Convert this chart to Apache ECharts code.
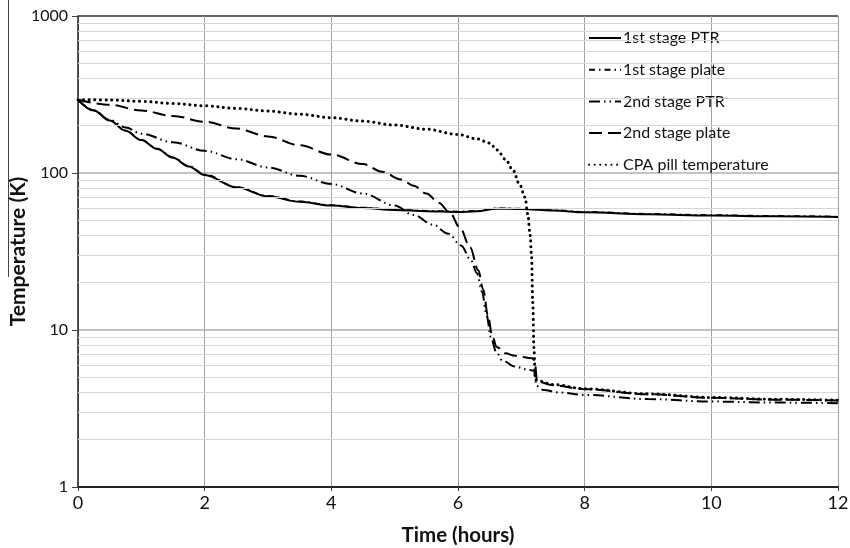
<!DOCTYPE html>
<html>
<head>
<meta charset="utf-8">
<script src="https://cdn.jsdelivr.net/npm/echarts@6/dist/echarts.min.js"></script>
<style>
  html, body { margin: 0; padding: 0; background: #fff; }
  #chart { width: 850px; height: 548px; }
</style>
</head>
<body>
<div id="chart"></div>
<script>
// series names
const seriesNames = ['1st stage PTR', '1st stage plate', '2nd stage PTR', '2nd stage plate', 'CPA pill temperature'];

// 1st stage PTR (solid)
const ptr1Time = [0, 0.25, 0.5, 0.75, 1, 1.25, 1.5, 1.75, 2, 2.5, 3, 3.5, 4, 4.5, 5, 5.5, 6, 6.3, 6.6, 7, 7.5, 8, 9, 10, 11, 12];
const ptr1Temp = [293, 250, 216, 186, 162, 142, 125, 110, 97, 81, 71, 65.5, 62, 59.8, 58.2, 57.1, 56.5, 57, 59.3, 59, 57.6, 56.2, 54.6, 53.6, 53, 52.5];

// 1st stage plate (dash dot), runs on top of the PTR curve
const plate1Time = [0, 0.25, 0.5, 0.75, 1, 1.25, 1.5, 1.75, 2, 2.5, 3, 3.5, 4, 4.5, 5, 5.5, 6, 6.3, 6.6, 7, 7.5, 8, 9, 10, 11, 12];
const plate1Temp = [293, 251, 217, 187, 163, 143, 126, 111, 98, 81.5, 71.5, 66, 62.4, 60.2, 58.6, 57.5, 56.9, 57.4, 59.7, 59.4, 58, 56.6, 55, 54, 53.3, 52.8];

// 2nd stage PTR (long dash dot dot)
const ptr2Time = [0, 0.25, 0.5, 0.75, 1, 1.5, 2, 2.5, 3, 3.5, 4, 4.5, 5, 5.3, 5.6, 5.85, 6.05, 6.2, 6.3, 6.38, 6.45, 6.52, 6.6, 6.7, 6.9, 7.1, 7.2, 7.24, 7.35, 7.6, 8, 9, 10, 11, 12];
const ptr2Temp = [293, 250, 218, 195, 178, 157, 138.5, 122.5, 108.5, 96, 85, 74, 62, 54, 47, 41, 34.5, 28, 23, 17.5, 12.5, 9, 7.3, 6.4, 5.85, 5.6, 5.5, 4.4, 4.15, 4.0, 3.86, 3.63, 3.5, 3.45, 3.42];

// 2nd stage plate (long dash)
const plate2Time = [0, 0.5, 1, 1.5, 2, 2.5, 3, 3.5, 4, 4.5, 4.8, 5.1, 5.3, 5.5, 5.7, 5.87, 6.03, 6.19, 6.32, 6.4, 6.47, 6.54, 6.61, 6.75, 6.9, 7.17, 7.21, 7.25, 7.5, 8, 9, 10, 11, 12];
const plate2Temp = [293, 272, 250, 231, 212, 192, 171, 150, 131, 114, 102, 91, 83, 74, 64.5, 56, 45, 33.7, 24, 18, 12.5, 9.2, 7.8, 7.1, 6.85, 6.6, 6.4, 4.7, 4.45, 4.2, 3.9, 3.7, 3.6, 3.56];

// CPA pill temperature (dotted)
const cpaTime = [0, 0.5, 1, 1.5, 2, 2.5, 3, 3.5, 4, 4.5, 5, 5.5, 6, 6.3, 6.5, 6.62, 6.75, 6.87, 6.97, 7.06, 7.1, 7.14, 7.16, 7.18, 7.2, 7.22, 7.5, 8, 9, 10, 11, 12];
const cpaTemp = [293, 292, 286, 277, 268, 258, 248, 237, 225, 214, 202, 190, 176, 165, 155, 140, 122, 104, 85, 70, 55, 40, 30, 15, 7.5, 4.8, 4.5, 4.22, 3.92, 3.72, 3.62, 3.57];

// axis ticks
const xTicks = [0, 2, 4, 6, 8, 10, 12];
const yMin = 1, yMax = 1000;
const minorGridValues = [2, 3, 4, 5, 6, 7, 8, 9, 20, 30, 40, 50, 60, 70, 80, 90, 200, 300, 400, 500, 600, 700, 800, 900];

function pairs(t, v) {
    return t.map((x, i) => [x, v[i]]);
}

const chart = echarts.init(document.getElementById('chart'));
const font = 'Lato, "Open Sans", sans-serif';

const lineStyles = [
    { color: '#000', width: 2, type: 'solid' },
    { color: '#000', width: 1.6, type: [6, 4, 1.5, 4] },
    { color: '#000', width: 2, type: [11, 4, 1.5, 4, 1.5, 4] },
    { color: '#000', width: 2, type: [13, 6] },
    { color: '#000', width: 3, type: [0.1, 5.5], cap: 'round' }
];

const datasets = [
    pairs(ptr1Time, ptr1Temp),
    pairs(plate1Time, plate1Temp),
    pairs(ptr2Time, ptr2Temp),
    pairs(plate2Time, plate2Temp),
    pairs(cpaTime, cpaTemp)
];

const series = [{
    name: 'grid',
    type: 'line',
    data: [],
    z: 1,
    silent: true,
    markLine: {
        silent: true,
        symbol: 'none',
        animation: false,
        label: { show: false },
        lineStyle: { color: '#d6d6d6', width: 1, type: 'solid' },
        emphasis: { disabled: true },
        data: minorGridValues.map(v => ({ yAxis: v }))
    }
}];

seriesNames.forEach((name, i) => {
    series.push({
        name: name,
        type: 'line',
        data: datasets[i],
        showSymbol: false,
        symbol: 'none',
        smooth: 0.35,
        smoothMonotone: 'x',
        z: 3 + i,
        lineStyle: lineStyles[i],
        itemStyle: { color: '#000' },
        emphasis: { disabled: true }
    });
});

const option = {
    animation: false,
    backgroundColor: '#fff',
    grid: { left: 78, right: 12, top: 16, bottom: 61, outerBoundsMode: 'none', containLabel: false },
    legend: {
        data: seriesNames,
        orient: 'vertical',
        left: 583,
        top: 25,
        itemWidth: 32,
        itemHeight: 14,
        itemGap: 15.7,
        itemStyle: { opacity: 0 },
        textStyle: { fontFamily: font, fontSize: 16, lineHeight: 14, color: '#111', padding: [0, 0, 0, -3] }
    },
    xAxis: {
        type: 'value',
        min: 0,
        max: 12,
        interval: 2,
        name: 'Time (hours)',
        nameLocation: 'middle',
        nameGap: 38,
        nameTextStyle: { fontFamily: font, fontSize: 20.5, fontWeight: 'bold', color: '#111' },
        axisLine: { show: true, onZero: false, lineStyle: { color: '#222', width: 2 } },
        axisTick: { show: true, length: 4, lineStyle: { color: '#444' } },
        axisLabel: {
            fontFamily: font, fontSize: 18, color: '#111', margin: 7,
            formatter: v => xTicks.includes(v) ? String(v) : ''
        },
        splitLine: { show: true, lineStyle: { color: '#a0a0a0', width: 1 } }
    },
    yAxis: {
        type: 'log',
        logBase: 10,
        min: yMin,
        max: yMax,
        name: 'Temperature (K)',
        nameLocation: 'middle',
        nameGap: 49,
        nameMoveOverlap: false,
        nameTextStyle: { fontFamily: font, fontSize: 21, fontWeight: 'bold', color: '#111' },
        axisLine: { show: true, lineStyle: { color: '#222', width: 1.5 } },
        axisTick: { show: true, length: 6, lineStyle: { color: '#444' } },
        axisLabel: { fontFamily: font, fontSize: 16, color: '#111', margin: 10, formatter: v => String(v) },
        splitLine: { show: true, lineStyle: { color: ['#222', '#b0b0b0', '#b0b0b0', '#333'], width: 1.5 } }
    },
    graphic: [{
        type: 'line',
        shape: { x1: 8.5, y1: 0, x2: 8.5, y2: 277 },
        style: { stroke: '#444', lineWidth: 1 },
        silent: true
    }],
    series: series
};

chart.setOption(option);
</script>
</body>
</html>
